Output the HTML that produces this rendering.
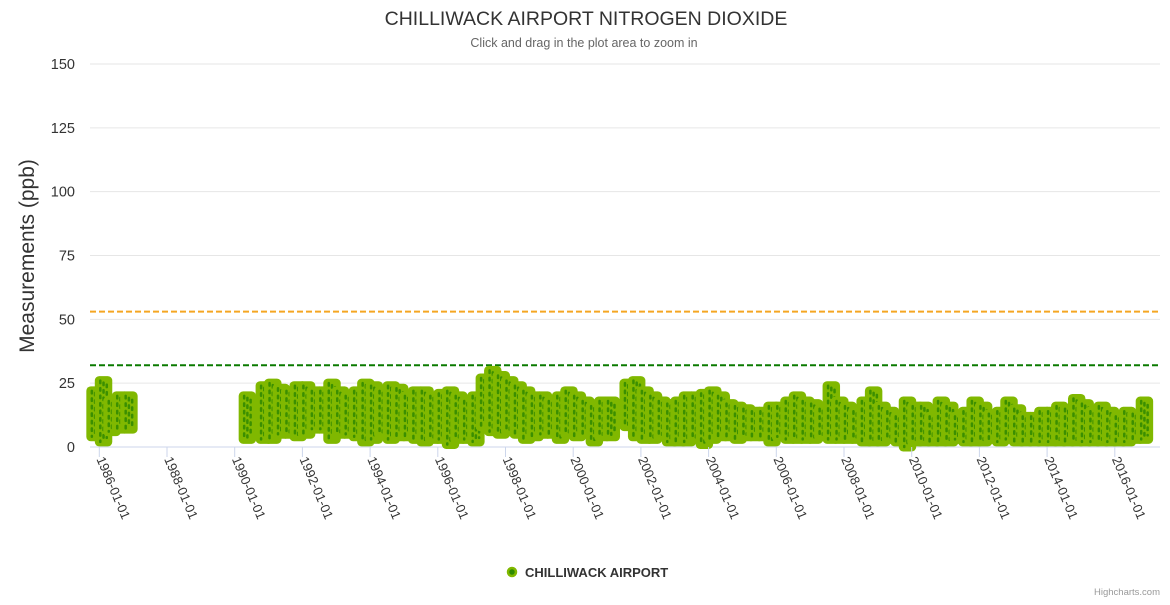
<!DOCTYPE html>
<html><head><meta charset="utf-8"><style>
body{margin:0;background:#fff;font-family:"Liberation Sans",sans-serif}
svg text{font-family:"Liberation Sans",sans-serif}
</style></head><body>
<svg id="chart" width="1170" height="600" xmlns="http://www.w3.org/2000/svg">
<rect width="1170" height="600" fill="#fff"/>
<text x="586" y="25" text-anchor="middle" font-size="19.5" fill="#333">CHILLIWACK AIRPORT NITROGEN DIOXIDE</text>
<text x="584" y="47" text-anchor="middle" font-size="12.5" fill="#666">Click and drag in the plot area to zoom in</text>
<text transform="translate(34,256) rotate(-90)" text-anchor="middle" font-size="21" fill="#333">Measurements (ppb)</text>
<g id="grid"></g><g id="marks"></g><g id="xaxis"></g>
<circle cx="512" cy="572" r="4" fill="#2f8a00" stroke="#80b800" stroke-width="2.5"/>
<text x="525" y="577" font-size="13" font-weight="bold" fill="#333">CHILLIWACK AIRPORT</text>
<text x="1160" y="595" text-anchor="end" font-size="9.5" fill="#999">Highcharts.com</text>
</svg>
<script>
const yTicks=[0,25,50,75,100,125,150];
const xTickYears=[1986,1988,1990,1992,1994,1996,1998,2000,2002,2004,2006,2008,2010,2012,2014,2016];
const thresholds=[53,32];
const startYear=1985.75;
const qHigh=[22,26,18,20,20,null,null,null,null,null,null,null,null,null,null,null,null,null,20,null,24,
25,23,22,24,24,22,22,25,22,20,22,25,24,22,24,23,20,22,22,20,21,22,20,18,20,27,30,28,26,24,22,20,20,18,20,22,20,18,16,18,18,null,25,26,
22,20,18,17,18,20,20,21,22,20,17,16,15,14,14,16,16,18,20,18,17,15,24,18,16,14,18,22,16,14,12,18,16,16,12,18,16,12,14,18,16,13,14,18,15,12,12,14,14,16,15,19,17,14,16,14,12,14,13,18];
const qLow=[4,2,6,7,7,null,null,null,null,null,null,null,null,null,null,null,null,null,3,null,3,
3,5,5,4,5,7,7,3,5,5,4,2,3,5,3,4,4,3,2,3,3,1,3,3,2,8,6,5,6,5,3,4,5,5,3,5,4,5,2,4,4,null,8,4,
3,3,4,2,2,2,3,1,3,4,4,3,4,4,4,2,4,3,3,3,3,4,3,3,3,3,2,2,2,3,2,0,2,2,2,2,2,3,2,2,2,3,2,3,2,2,2,2,2,2,2,2,2,2,2,2,2,2,3,3];
const L=90,R=1160,Y0=447,ppu=(447-64)/150;
const yS=v=>Y0-v*ppu;
const xS=yr=>99.3+(yr-1986)*33.85;
const NS="http://www.w3.org/2000/svg";
function mk(t,a,p){const e=document.createElementNS(NS,t);for(const k in a)e.setAttribute(k,a[k]);p.appendChild(e);return e;}
const grid=document.getElementById('grid'),marks=document.getElementById('marks'),xa=document.getElementById('xaxis');
yTicks.forEach(v=>{
 const l=mk('line',{x1:L,x2:R,y1:yS(v),y2:yS(v),stroke:v===0?'#ccd6eb':'#e6e6e6','stroke-width':1},grid);
 
 
 const t=mk('text',{x:75,y:yS(v)+5,'text-anchor':'end','font-size':14.5,fill:'#333'},grid);
 t.textContent=v;
 
 
});
thresholds.forEach((v,i)=>{
 const l=mk('line',{x1:L,x2:R,y1:yS(v),y2:yS(v),stroke:i===0?'#f5a623':'#0a7a00','stroke-width':2,'stroke-dasharray':'6,3'},grid);
 
 
});
qHigh.forEach((h,i)=>{
 const lo=qLow[i];if(h===null||lo===null)return;
 const x1=xS(startYear+i*0.25),x2=xS(startYear+(i+1)*0.25);
 const r=mk('rect',{x:x1-4.5,y:yS(h)-4.5,width:x2-x1+9,height:yS(lo)-yS(h)+9,rx:4.5,fill:'#80b800'},marks);
 
 
 [x1+1,(x1+x2)/2,x2-1].forEach((cx,j)=>{
  const c=mk('line',{x1:cx,x2:cx,y1:yS(h)+j*2,y2:yS(lo)-j*2,stroke:'#3b8f00','stroke-width':2.5,'stroke-dasharray':'2.5,5','stroke-linecap':'round'},marks);
  
  
 });
});
xTickYears.forEach(yr=>{
 const x=xS(yr);
 const l=mk('line',{x1:x,x2:x,y1:Y0,y2:Y0+10,stroke:'#ccd6eb'},xa);
 
 
 const t=mk('text',{transform:`translate(${x-3},${Y0+12}) rotate(67)`,'font-size':13,fill:'#333'},xa);
 t.textContent=yr+'-01-01';
 
 
});
</script>
</body></html>
